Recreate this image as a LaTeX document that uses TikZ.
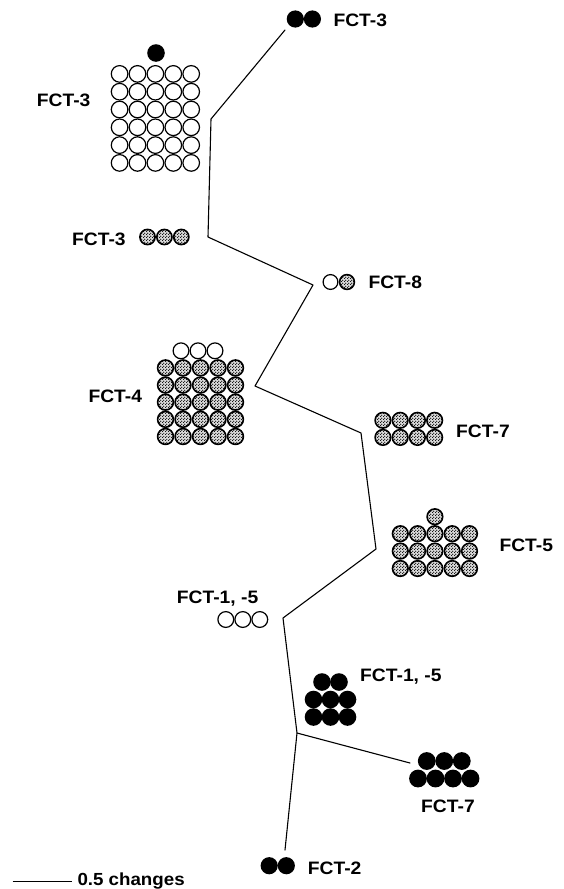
\documentclass[tikz,border=0pt]{standalone}
\usepackage{fontspec}
\setmainfont{Liberation Sans}[FakeStretch=1.07]
\usetikzlibrary{patterns}
\pgfdeclarepatternformonly{densedots}{\pgfpointorigin}{\pgfqpoint{2.6pt}{2.6pt}}{\pgfqpoint{2.6pt}{2.6pt}}{%
  \pgfpathcircle{\pgfqpoint{0.65pt}{0.65pt}}{0.6pt}
  \pgfpathcircle{\pgfqpoint{1.95pt}{1.95pt}}{0.6pt}
  \pgfusepath{fill}}
\begin{document}
\begin{tikzpicture}[x=1pt,y=-1pt,
  branch/.style={line width=1.1pt, line cap=round, line join=round},
  opencirc/.style={draw, line width=1.2pt, fill=white},
  stipcirc/.style={draw, line width=1.6pt, preaction={fill=gray!30}, pattern=densedots},
  solidcirc/.style={fill=black},
  lab/.style={anchor=base west, inner sep=0pt, font=\fontsize{18}{20}\selectfont\bfseries}]
\useasboundingbox (0,0) rectangle (564,889);
% tree
\coordinate (t3) at (285,30);
\coordinate (v1) at (211,119);
\coordinate (v2) at (208,237);
\coordinate (v3) at (313,285);
\coordinate (v4) at (255,386);
\coordinate (v5) at (361,433);
\coordinate (v6) at (376,549);
\coordinate (v7) at (283,618);
\coordinate (v8) at (297,733);
\coordinate (t7) at (410,763);
\coordinate (t2) at (285,850);
\draw[branch] (t3) -- (v1) -- (v2) -- (v3) -- (v4) -- (v5) -- (v6) -- (v7) -- (v8) -- (t2);
\draw[branch] (v8) -- (t7);
% top FCT-3
\foreach \x in {295.3,312.4} \fill[solidcirc] (\x,19) circle[radius=8.6pt];
\node[lab] (l1) at (333.3,26.7) {FCT-3};
% FCT-3 grid
\foreach \i in {0,...,4} \foreach \j in {0,...,5}
  \draw[opencirc] (119.6+17.9*\i,73.9+17.8*\j) circle[radius=8.3pt];
\fill[solidcirc] (156,53) circle[radius=8.8pt];
\node[lab] (l2) at (36.7,106) {FCT-3};
% FCT-3 stippled
\foreach \x in {147.5,164.4,181.3} \draw[stipcirc] (\x,237) circle[radius=7.6pt];
\node[lab] (l3) at (72,245) {FCT-3};
% FCT-8
\draw[opencirc] (330.5,282) circle[radius=7.4pt];
\draw[stipcirc] (347,282) circle[radius=7.4pt];
\node[lab] (l4) at (368.3,288.3) {FCT-8};
% FCT-4
\foreach \x in {181,198,215} \draw[opencirc] (\x,350.8) circle[radius=7.9pt];
\foreach \i in {0,...,4} \foreach \j in {0,...,4}
  \draw[stipcirc] (165.5+17.5*\i,367.9+17.15*\j) circle[radius=7.9pt];
\node[lab] (l5) at (88.3,402.7) {FCT-4};
% FCT-7 stippled
\foreach \i in {0,...,3} \foreach \j in {0,1}
  \draw[stipcirc] (382.9+17.25*\i,420.3+17.1*\j) circle[radius=7.8pt];
\node[lab] (l6) at (456,437.7) {FCT-7};
% FCT-5
\draw[stipcirc] (434.9,516.7) circle[radius=7.8pt];
\foreach \i in {0,...,4} \foreach \j in {0,...,2}
  \draw[stipcirc] (400.3+17.3*\i,533.7+17.4*\j) circle[radius=7.8pt];
\node[lab] (l7) at (499.3,551.7) {FCT-5};
% FCT-1, -5 open
\foreach \x in {225.8,242.8,259.8} \draw[opencirc] (\x,619.5) circle[radius=7.9pt];
\node[lab] (l8) at (176.7,603.3) {FCT-1, -5};
% FCT-1, -5 solid
\foreach \x in {322,339} \fill[solidcirc] (\x,682) circle[radius=8.8pt];
\foreach \x in {313.5,330.5,347.5} \foreach \y in {699.5,717}
  \fill[solidcirc] (\x,\y) circle[radius=8.8pt];
\node[lab] (l9) at (360,681) {FCT-1, -5};
% FCT-7 solid
\foreach \x in {426.75,444.25,461.75} \fill[solidcirc] (\x,761) circle[radius=8.9pt];
\foreach \x in {418,435.5,453,470.5} \fill[solidcirc] (\x,778.5) circle[radius=8.9pt];
\node[lab] (l10) at (421,812.7) {FCT-7};
% FCT-2
\foreach \x in {269.2,286.3} \fill[solidcirc] (\x,865.7) circle[radius=8.6pt];
\node[lab] (l11) at (307.7,874) {FCT-2};
% scale bar
\coordinate (s1) at (12.7,881.7);
\coordinate (s2) at (71.7,881.7);
\draw[line width=1.1pt] (s1) -- (s2);
\node[lab, font=\fontsize{17.5}{19}\selectfont\bfseries] (l12) at (77.3,885) {0.5 changes};
\end{tikzpicture}
\end{document}
